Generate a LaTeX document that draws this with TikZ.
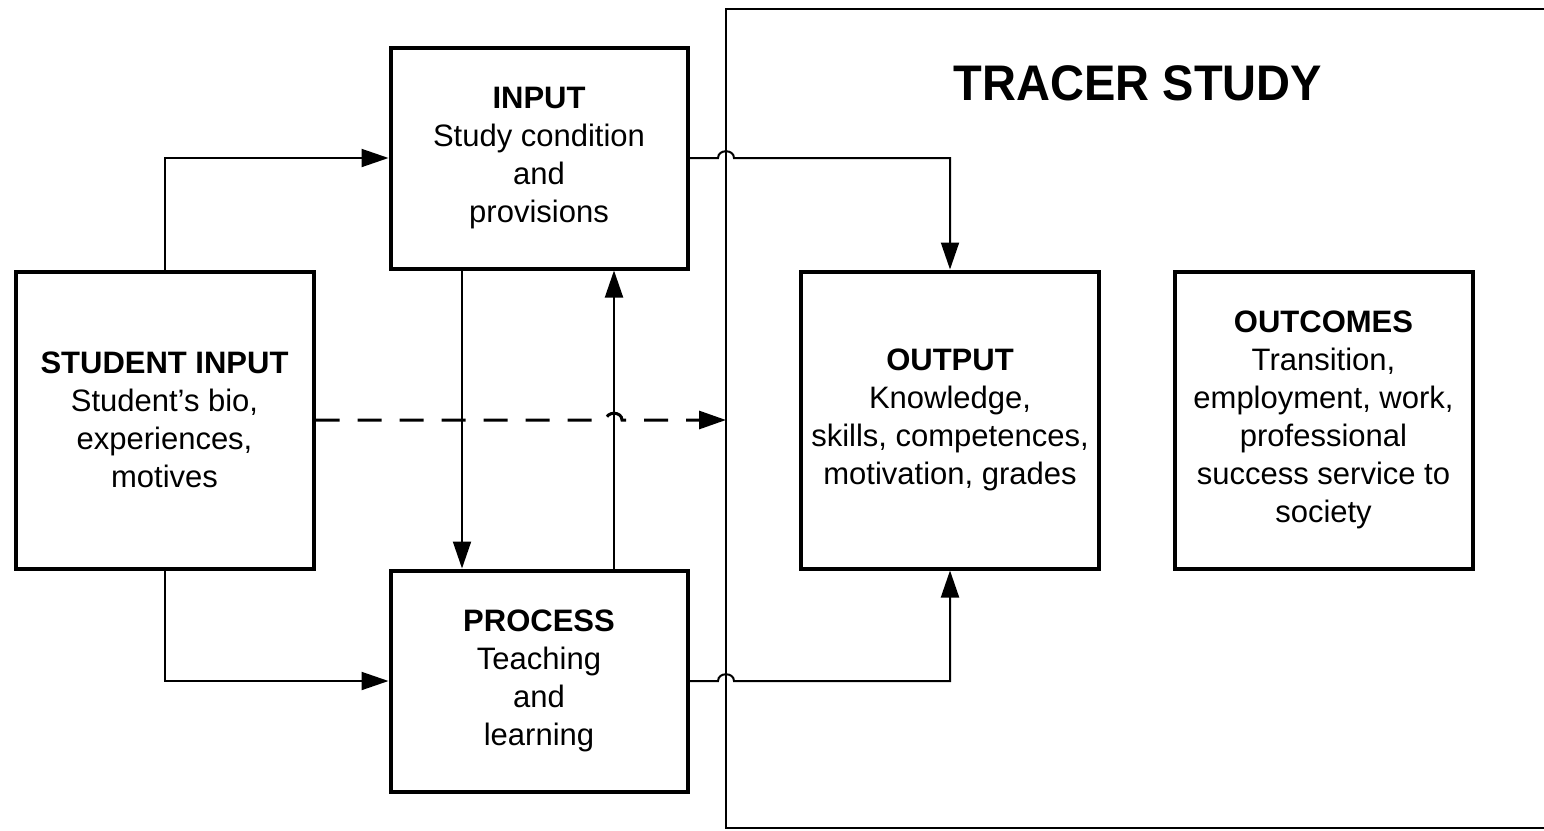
\documentclass[tikz,border=0pt]{standalone}
\usepackage{fontspec}
\setmainfont{Liberation Sans}
\usetikzlibrary{arrows.meta}
\begin{document}
\begin{tikzpicture}[x=1pt,y=-1pt,
  blk/.style={draw,line width=4pt,align=center,inner sep=0pt,
    font=\fontsize{31}{38}\selectfont},
  sq/.style={blk,minimum width=298pt,minimum height=297pt},
  flat/.style={blk,minimum width=297pt,minimum height=221pt},
  conn/.style={line width=2pt,-{Triangle[length=27pt,width=18pt]}},
  dconn/.style={conn,line width=3pt,dash pattern=on 24pt off 18pt}]
\useasboundingbox (0,0) rectangle (1544,830);
% tracer study frame
\coordinate (trl) at (726,9);
\draw[line width=2pt] (1550,9) -- (trl) -- (726,828) -- (1550,828);
\node[anchor=base,font=\bfseries\fontsize{50}{60}\selectfont] (title) at (1138,100)
  {\scalebox{0.94}[1]{TRACER STUDY}};
% boxes
\node[sq] (stu) at (164.5,420) {\textbf{STUDENT INPUT}\\Student’s bio,\\experiences,\\motives};
\node[flat] (inp) at (539,158) {\textbf{INPUT}\\Study condition\\and\\provisions};
\node[flat] (pro) at (539,681) {\textbf{PROCESS}\\Teaching\\and\\learning};
\node[sq] (out) at (950,420) {\textbf{OUTPUT}\\Knowledge,\\skills, competences,\\motivation, grades};
\node[sq] (outc) at (1323.5,420) {\textbf{OUTCOMES}\\Transition,\\employment, work,\\professional\\success service to\\society};
% connectors
\coordinate (dn) at ([xshift=-77pt]inp.south);
\coordinate (up) at ([xshift=75pt]pro.north);
\draw[conn] (stu.north) |- (inp.west);
\draw[conn] (stu.south) |- (pro.west);
\draw[conn] (dn) -- (dn |- pro.north);
\draw[conn] (up) -- (up |- inp.south);
\draw[conn] (inp.east) -- ([xshift=-8pt]inp.east -| trl)
  .. controls +(0,-9) and +(0,-9) .. ++(16,0)
  -- (inp.east -| out.north) -- (out.north);
\draw[conn] (pro.east) -- ([xshift=-8pt]pro.east -| trl)
  .. controls +(0,-9) and +(0,-9) .. ++(16,0)
  -- (pro.east -| out.south) -- (out.south);
\draw[dconn] (stu.east) -- ([xshift=-8pt]stu.east -| up)
  .. controls +(0,-9) and +(0,-9) .. ++(16,0)
  -- (stu.east -| trl);
\end{tikzpicture}
\end{document}
